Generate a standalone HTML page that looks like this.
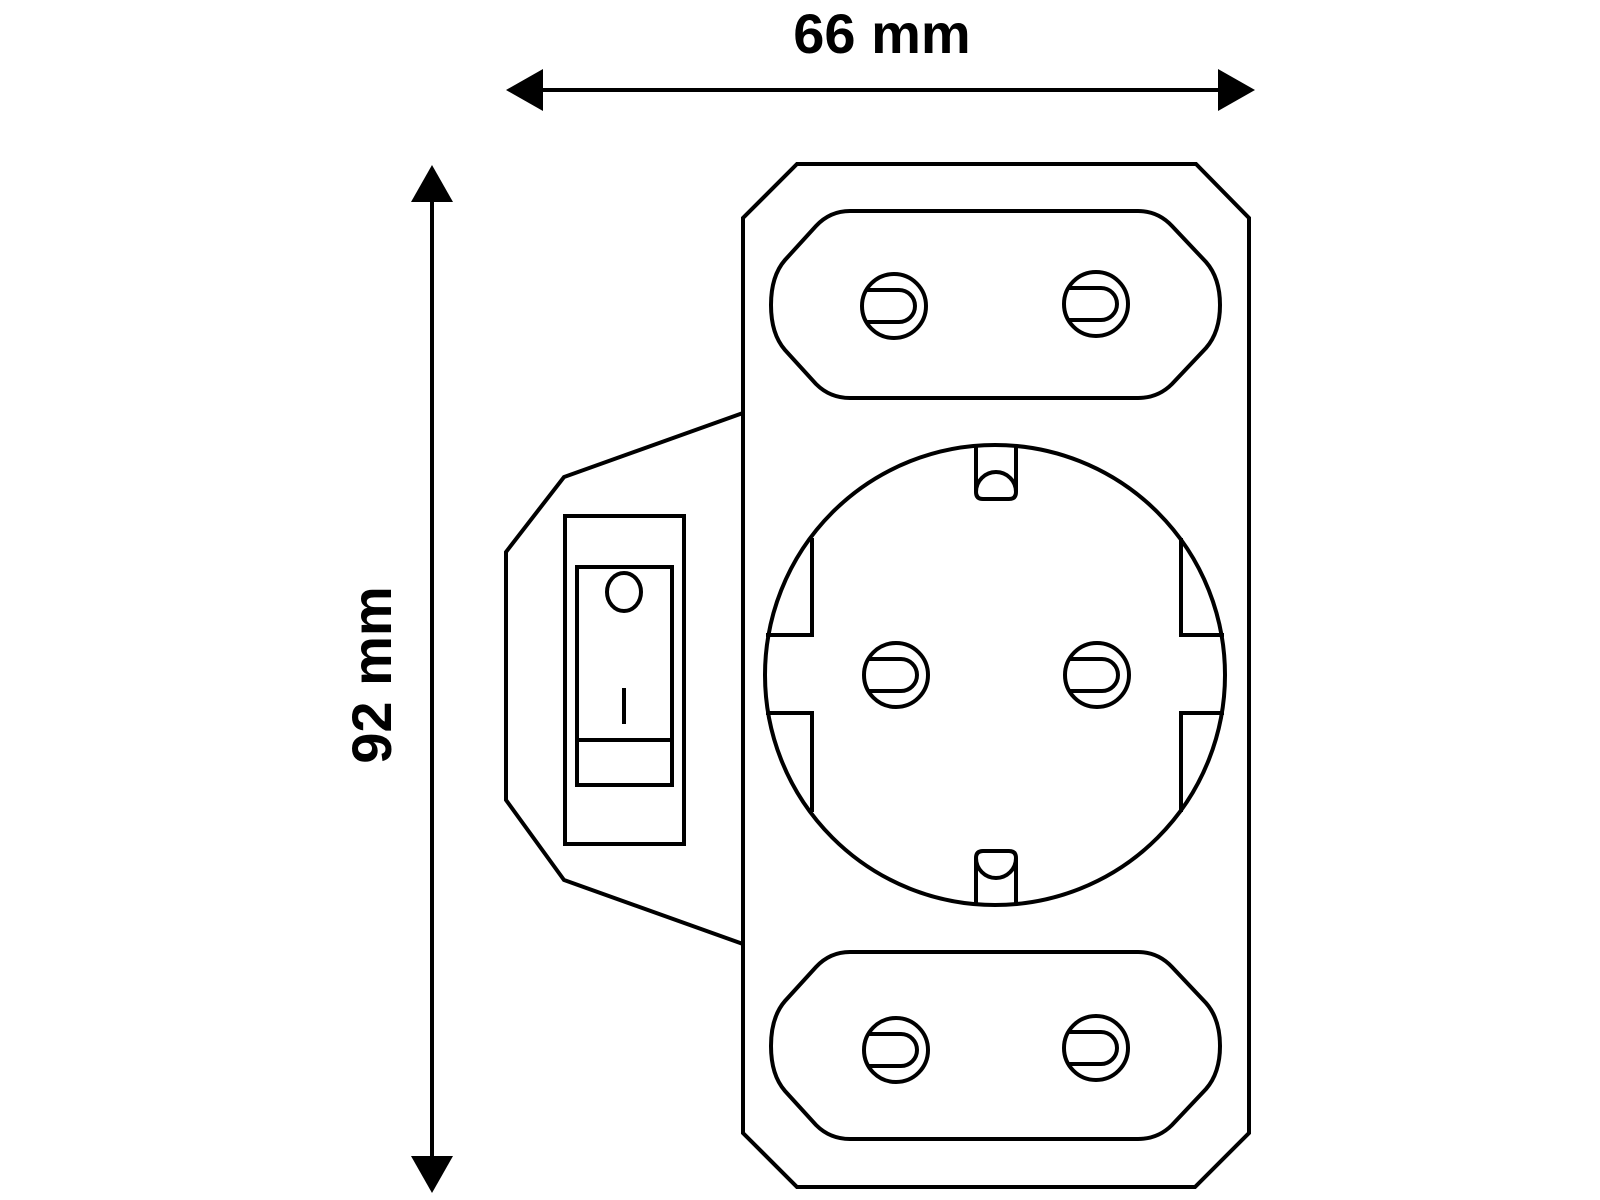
<!DOCTYPE html>
<html><head><meta charset="utf-8"><style>html,body{margin:0;padding:0;background:#fff}svg{display:block}</style></head>
<body>
<svg width="1600" height="1200" viewBox="0 0 1600 1200" xmlns="http://www.w3.org/2000/svg">
<defs>
<g id="pin" fill="none" stroke="#000" stroke-width="4">
<circle cx="0" cy="0" r="32"/>
<path d="M-28,-16 H5 A16,16 0 0 1 5,16 H-28"/>
</g>
<path id="oval" d="M850,211 H1138 Q1158,211 1172,226 L1206,262 Q1220,278 1220,305 Q1220,332 1206,348 L1172,384 Q1158,398 1138,398 H850 Q830,398 816,384 L785,350 Q771,334 771,305 Q771,276 785,260 L816,226 Q830,211 850,211 Z"/>
</defs>
<g fill="none" stroke="#000" stroke-width="4" stroke-linejoin="miter">
<line x1="530" y1="90" x2="1230" y2="90"/>
<line x1="432" y1="190" x2="432" y2="1170"/>
<polygon points="797,164 1196,164 1249,218 1249,1133 1195,1187 797,1187 743,1133 743,218"/>
<polyline points="743,413 564,477 506,552 506,800 564,880 743,944"/>
<rect x="565" y="516" width="119" height="328"/>
<rect x="577" y="567" width="95" height="218"/>
<line x1="577" y1="740" x2="672" y2="740"/>
<ellipse cx="624" cy="592" rx="17" ry="19"/>
<line x1="624" y1="688" x2="624" y2="724"/>
<use href="#oval"/>
<use href="#oval" transform="translate(0,741)"/>
<circle cx="995" cy="675" r="230"/>
<path d="M976,446 V492 Q976,499 983,499 H1009 Q1016,499 1016,492 V446"/>
<path d="M976,492 A20,20 0 0 1 1016,492"/>
<path d="M976,904 V858 Q976,851 983,851 H1009 Q1016,851 1016,858 V904"/>
<path d="M976,858 A20,20 0 0 0 1016,858"/>
<path d="M812,538 V635 H766"/>
<path d="M766,713 H812 V812"/>
<path d="M1181,538 V635 H1224"/>
<path d="M1224,713 H1181 V812"/>
</g>
<use href="#pin" transform="translate(894,306)"/>
<use href="#pin" transform="translate(1096,304)"/>
<use href="#pin" transform="translate(896,675)"/>
<use href="#pin" transform="translate(1097,675)"/>
<use href="#pin" transform="translate(896,1050)"/>
<use href="#pin" transform="translate(1096,1048)"/>
<g fill="#000">
<polygon points="506,90 543,69 543,111"/>
<polygon points="1255,90 1218,69 1218,111"/>
<polygon points="432,165 411,202 453,202"/>
<polygon points="432,1193 411,1156 453,1156"/>
</g>
<text x="882" y="53" font-family="Liberation Sans, sans-serif" font-weight="bold" font-size="56" text-anchor="middle">66 mm</text>
<text transform="translate(391,675) rotate(-90)" font-family="Liberation Sans, sans-serif" font-weight="bold" font-size="56" text-anchor="middle">92 mm</text>
</svg>
</body></html>
